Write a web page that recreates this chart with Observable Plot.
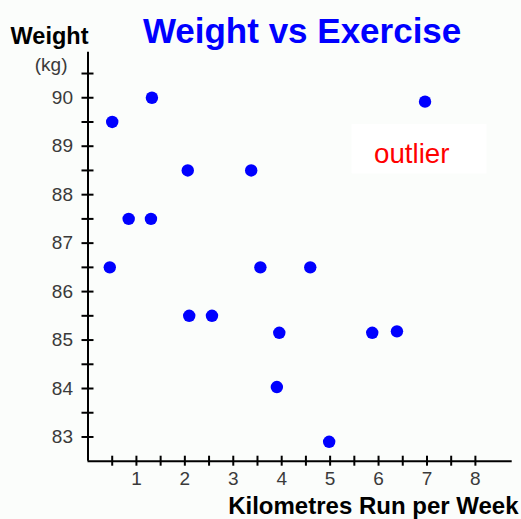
<!DOCTYPE html>
<html><head><meta charset="utf-8">
<script src="https://cdn.jsdelivr.net/npm/d3@7"></script>
<script src="https://cdn.jsdelivr.net/npm/@observablehq/plot@0.6"></script>
<style>
html,body{margin:0;padding:0;background:#fbfdfb;}
#chart{width:521px;height:519px;}
</style>
</head><body><div id="chart"></div>
<script>
// Data
const km = [0.5, 1.32, 0.84, 1.3, 0.45, 2.06, 3.37, 2.09, 2.56, 3.56, 4.59, 3.95, 3.9, 4.98, 5.87, 6.38, 6.96];
const kg = [89.5, 90, 87.5, 87.5, 86.5, 88.5, 88.5, 85.5, 85.5, 86.5, 86.5, 85.15, 84.03, 82.9, 85.15, 85.18, 89.92];
const outlierIndex = 16;
const xTicks = [0.5, 1, 1.5, 2, 2.5, 3, 3.5, 4, 4.5, 5, 5.5, 6, 6.5, 7, 7.5, 8];
const xTickLabels = [1, 2, 3, 4, 5, 6, 7, 8];
const yTicks = [83, 83.5, 84, 84.5, 85, 85.5, 86, 86.5, 87, 87.5, 88, 88.5, 89, 89.5, 90, 90.5];
const yTickLabels = [83, 84, 85, 86, 87, 88, 89, 90];
const xDomain = [0, 8.76];
const yDomain = [82.5, 90.94];
const titleText = ["Weight vs Exercise"];
const yLabelText = ["Weight"];
const yUnitText = ["(kg)"];
const xLabelText = ["Kilometres Run per Week"];
const annotationText = ["outlier"];

const points = km.map((x, i) => ({km: x, kg: kg[i]}));
const outlier = [points[outlierIndex]];

const chart = Plot.plot({
  width: 521,
  height: 519,
  marginLeft: 87.5,
  marginRight: 9.3,
  marginTop: 51.7,
  marginBottom: 58.3,
  style: {fontFamily: "'Liberation Sans', Arial, sans-serif", background: "#fbfdfb", overflow: "visible"},
  x: {domain: xDomain},
  y: {domain: yDomain},
  marks: [
    // annotation box
    Plot.rect(outlier, {x1: "km", x2: "km", y1: "kg", y2: "kg",
      insetLeft: -73, insetRight: -62, insetTop: 23, insetBottom: -72.3, fill: "#ffffff"}),
    Plot.text(outlier, {x: "km", y: "kg", text: () => annotationText[0], dx: -13.3, dy: 52,
      lineAnchor: "middle", fontSize: 27.7, fill: "#ff0000"}),
    // axis lines
    Plot.ruleX([xDomain[0]], {stroke: "#000", strokeWidth: 2}),
    Plot.ruleY([yDomain[0]], {stroke: "#000", strokeWidth: 2}),
    // ticks crossing the axes
    Plot.axisY(yTicks, {tickSize: 12, dx: 6, tickFormat: () => "", label: null, strokeWidth: 2, stroke: "#000"}),
    Plot.axisX(xTicks, {tickSize: 10, dy: -5, tickFormat: () => "", label: null, strokeWidth: 2, stroke: "#000"}),
    // tick labels
    Plot.axisY(yTickLabels, {tickSize: 0, tickPadding: 15, fontSize: 19, color: "#3a3a3a", label: null}),
    Plot.axisX(xTickLabels, {tickSize: 0, tickPadding: 10.5, fontSize: 19, color: "#3a3a3a", label: null}),
    // points
    Plot.dot(points, {x: "km", y: "kg", r: 6.2, fill: "#0000ff", stroke: null}),
    // titles and labels
    Plot.text(titleText, {frameAnchor: "top", lineAnchor: "middle", text: d => d, dx: 2, dy: -20.5, fontSize: 35, fontWeight: "bold", fill: "#0000ff"}),
    Plot.text(yLabelText, {frameAnchor: "top-left", lineAnchor: "middle", text: d => d, textAnchor: "end", dx: 0.5, dy: -16, fontSize: 23.5, fontWeight: "bold", fill: "#000"}),
    Plot.text(yUnitText, {frameAnchor: "top-left", lineAnchor: "middle", text: d => d, textAnchor: "end", dx: -20.5, dy: 13.2, fontSize: 19, fill: "#3a3a3a"}),
    Plot.text(xLabelText, {frameAnchor: "bottom-right", lineAnchor: "middle", text: d => d, textAnchor: "end", dx: 6.3, dy: 45, fontSize: 24, fontWeight: "bold", fill: "#000"})
  ]
});
document.getElementById("chart").appendChild(chart);
</script>
</body></html>
